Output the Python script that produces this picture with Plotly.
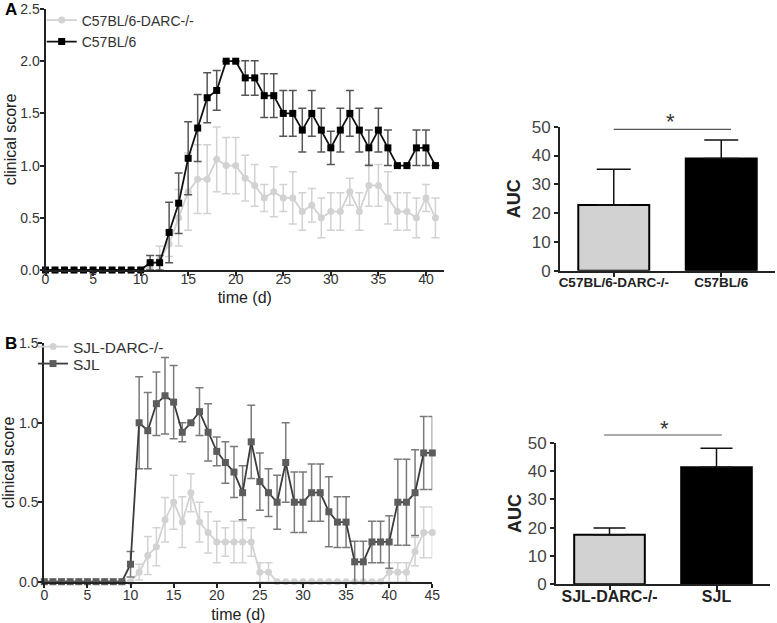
import plotly.graph_objects as go

W, H = 777, 623

# ---------------- Data: panel A ----------------
days_A = [0, 1, 2, 3, 4, 5, 6, 7, 8, 9, 10, 11, 12, 13, 14, 15, 16, 17, 18, 19, 20,
          21, 22, 23, 24, 25, 26, 27, 28, 29, 30, 31, 32, 33, 34, 35, 36, 37, 38, 39, 40, 41]
darc_A = [0, 0, 0, 0, 0, 0, 0, 0, 0, 0, 0, 0.03, 0.1, 0.25, 0.5, 0.75, 0.87, 0.87, 1.06, 1.0, 1.0,
          0.88, 0.81, 0.69, 0.75, 0.69, 0.69, 0.56, 0.62, 0.5, 0.56, 0.56, 0.75, 0.56, 0.81, 0.81,
          0.69, 0.56, 0.56, 0.5, 0.69, 0.5]
darc_A_err = [0, 0, 0, 0, 0, 0, 0, 0, 0, 0, 0, 0.03, 0.13, 0.12, 0.27, 0.37, 0.33, 0.33, 0.31, 0.27, 0.27,
              0.22, 0.2, 0.13, 0.24, 0.13, 0.25, 0.18, 0.16, 0.19, 0.18, 0.18, 0.13, 0.18, 0.2, 0.2,
              0.25, 0.18, 0.18, 0.19, 0.13, 0.19]
wt_A = [0, 0, 0, 0, 0, 0, 0, 0, 0, 0, 0, 0.07, 0.07, 0.36, 0.64, 1.07, 1.36, 1.65, 1.72, 2.0, 2.0,
        1.84, 1.84, 1.67, 1.67, 1.5, 1.5, 1.34, 1.5, 1.34, 1.17, 1.34, 1.5, 1.34, 1.17, 1.34,
        1.17, 1.0, 1.0, 1.17, 1.17, 1.0]
wt_A_err = [0, 0, 0, 0, 0, 0, 0, 0, 0, 0, 0, 0.07, 0.07, 0.29, 0.29, 0.35, 0.32, 0.24, 0.19, 0, 0,
            0.165, 0.165, 0.21, 0.21, 0.22, 0.22, 0.21, 0.22, 0.21, 0.16, 0.21, 0.22, 0.21, 0.17, 0.21,
            0.17, 0, 0, 0.17, 0.17, 0]

groups_A = ["C57BL/6-DARC-/-", "C57BL/6"]
auc_A = [22.8, 39.0]
auc_A_err = [12.4, 6.4]

# ---------------- Data: panel B ----------------
days_B = [0, 1, 2, 3, 4, 5, 6, 7, 8, 9, 10, 11, 12, 13, 14, 15, 16, 17, 18, 19, 20, 21, 22,
          23, 24, 25, 26, 27, 28, 29, 30, 31, 32, 33, 34, 35, 36, 37, 38, 39, 40, 41, 42, 43, 44, 45]
darc_B = [0, 0, 0, 0, 0, 0, 0, 0, 0, 0, 0, 0.06, 0.165, 0.22, 0.39, 0.5, 0.375, 0.56, 0.375, 0.31,
          0.25, 0.25, 0.25, 0.25, 0.25, 0.06, 0.06, 0, 0, 0, 0, 0, 0, 0, 0, 0, 0, 0, 0, 0,
          0.06, 0.06, 0.06, 0.19, 0.31, 0.31]
darc_B_err = [0, 0, 0, 0, 0, 0, 0, 0, 0, 0, 0, 0.05, 0.12, 0.12, 0.14, 0.17, 0.16, 0.12, 0.125, 0.13,
              0.13, 0.09, 0.13, 0.13, 0.09, 0.06, 0.06, 0, 0, 0, 0, 0, 0, 0, 0, 0, 0, 0, 0, 0,
              0.06, 0.06, 0.06, 0.09, 0.16, 0.16]
sjl_B = [0, 0, 0, 0, 0, 0, 0, 0, 0, 0, 0.11, 1.0, 0.95, 1.12, 1.17, 1.13, 0.94, 1.0, 1.07, 0.94,
         0.82, 0.75, 0.69, 0.56, 0.88, 0.63, 0.56, 0.5, 0.75, 0.5, 0.5, 0.56, 0.56, 0.44, 0.375,
         0.375, 0.125, 0.125, 0.25, 0.25, 0.25, 0.5, 0.5, 0.56, 0.81, 0.81]
sjl_B_err = [0, 0, 0, 0, 0, 0, 0, 0, 0, 0, 0.08, 0.29, 0.24, 0.2, 0.24, 0.23, 0.06, 0, 0.15, 0.18,
             0.09, 0.13, 0.16, 0.17, 0.23, 0.18, 0.15, 0.17, 0.25, 0.19, 0.19, 0.18, 0.18, 0.22, 0.16,
             0.16, 0.13, 0.13, 0.13, 0.13, 0.165, 0.27, 0.27, 0.27, 0.23, 0.23]

groups_B = ["SJL-DARC-/-", "SJL"]
auc_B = [17.5, 41.3]
auc_B_err = [2.4, 6.7]

# ---------------- helpers ----------------
FONT = "Arial, Liberation Sans, sans-serif"
AX = "#222222"


def px_x(p):
    return p / W


def px_y(p):
    return 1 - p / H


LIGHT = "#d2d2d2"

fig = go.Figure()

# Panel A line traces
fig.add_trace(go.Scatter(
    x=days_A, y=darc_A, name=groups_A[0], mode="lines+markers",
    line=dict(color=LIGHT, width=1.8), marker=dict(symbol="circle", size=7, color=LIGHT),
    error_y=dict(type="data", array=darc_A_err, color=LIGHT, thickness=1.5, width=4),
    cliponaxis=False, xaxis="x", yaxis="y", legend="legend"))
fig.add_trace(go.Scatter(
    x=days_A, y=wt_A, name=groups_A[1], mode="lines+markers",
    line=dict(color="#111111", width=1.8), marker=dict(symbol="square", size=7, color="#000000"),
    error_y=dict(type="data", array=wt_A_err, color="#555555", thickness=1.5, width=4),
    cliponaxis=False, xaxis="x", yaxis="y", legend="legend2"))

# Panel A bars
fig.add_trace(go.Bar(
    x=groups_A, y=auc_A, width=0.66,
    marker=dict(color=[LIGHT, "#000000"], line=dict(color="#000000", width=2)),
    error_y=dict(type="data", array=auc_A_err, arrayminus=[0, 0], symmetric=False,
                 color="#111111", thickness=1.5, width=17),
    showlegend=False, xaxis="x2", yaxis="y2"))

# Panel B line traces
fig.add_trace(go.Scatter(
    x=days_B, y=darc_B, name=groups_B[0], mode="lines+markers",
    line=dict(color=LIGHT, width=1.8), marker=dict(symbol="circle", size=7, color=LIGHT),
    error_y=dict(type="data", array=darc_B_err, color=LIGHT, thickness=1.5, width=4),
    cliponaxis=False, xaxis="x3", yaxis="y3", legend="legend3"))
fig.add_trace(go.Scatter(
    x=days_B, y=sjl_B, name=groups_B[1], mode="lines+markers",
    line=dict(color="#3c3c3c", width=1.8), marker=dict(symbol="square", size=7, color="#5c5c5c"),
    error_y=dict(type="data", array=sjl_B_err, color="#7a7a7a", thickness=1.5, width=4),
    cliponaxis=False, xaxis="x3", yaxis="y3", legend="legend4"))

# Panel B bars
fig.add_trace(go.Bar(
    x=groups_B, y=auc_B, width=0.66,
    marker=dict(color=[LIGHT, "#000000"], line=dict(color="#000000", width=2)),
    error_y=dict(type="data", array=auc_B_err, arrayminus=[0, 0], symmetric=False,
                 color="#111111", thickness=1.5, width=16),
    showlegend=False, xaxis="x4", yaxis="y4"))

common = dict(showline=True, linecolor=AX, linewidth=2, ticks="outside", ticklen=4,
              tickwidth=1.5, tickcolor=AX, showgrid=False, zeroline=False, automargin=False,
              tickfont=dict(family=FONT, size=14, color="#333333"))

title_font = dict(family=FONT, size=16, color="#222222")
bar_ytick = dict(family=FONT, size=17, color="#444444")


def leg(x, y, size):
    return dict(x=px_x(x), y=px_y(y), xanchor="left", yanchor="top", bgcolor="rgba(0,0,0,0)",
                font=dict(family=FONT, size=size, color="#333333"), itemwidth=30)


fig.update_layout(
    width=W, height=H, margin=dict(l=0, r=0, t=0, b=0),
    paper_bgcolor="white", plot_bgcolor="white",
    font=dict(family=FONT, color="#222222"),
    xaxis=dict(domain=[px_x(45.5), px_x(444)], range=[0, 41.9], tickvals=[0, 5, 10, 15, 20, 25, 30, 35, 40],
               anchor="y", ticklabelstandoff=-9,
               title=dict(text="time (d)", font=title_font, standoff=6), **common),
    yaxis=dict(domain=[px_y(270), px_y(9)], range=[0, 2.5], tickvals=[0, 0.5, 1.0, 1.5, 2.0, 2.5],
               tickformat=".1f", anchor="x", ticklabelstandoff=-3,
               title=dict(text="clinical score", font=title_font, standoff=0), **common),
    xaxis2=dict(domain=[px_x(560), px_x(775)], range=[-0.5, 1.5], anchor="y2", ticklabelstandoff=-6,
                **{**common, "tickfont": dict(family=FONT, size=13.5, color="#222222", weight="bold")}),
    yaxis2=dict(domain=[px_y(270.7), px_y(126.7)], range=[0, 50], tickvals=[0, 10, 20, 30, 40, 50],
                anchor="x2", title=dict(text="AUC", font=dict(family=FONT, size=18, color="#222222", weight="bold"),
                                        standoff=6),
                **{**common, "tickfont": bar_ytick}),
    xaxis3=dict(domain=[px_x(44.3), px_x(432.3)], range=[0, 45], tickvals=[0, 5, 10, 15, 20, 25, 30, 35, 40, 45],
                anchor="y3", ticklabelstandoff=-5,
                title=dict(text="time (d)", font=title_font, standoff=8), **common),
    yaxis3=dict(domain=[px_y(581.7), px_y(343.3)], range=[0, 1.5], tickvals=[0, 0.5, 1.0, 1.5],
                tickformat=".1f", anchor="x3", ticklabelstandoff=-3,
                title=dict(text="clinical score", font=title_font, standoff=0), **common),
    xaxis4=dict(domain=[px_x(556), px_x(770)], range=[-0.5, 1.5], anchor="y4", ticklabelstandoff=-8,
                **{**common, "tickfont": dict(family=FONT, size=16, color="#222222", weight="bold")}),
    yaxis4=dict(domain=[px_y(584.3), px_y(442.7)], range=[0, 50], tickvals=[0, 10, 20, 30, 40, 50],
                anchor="x4", title=dict(text="AUC", font=dict(family=FONT, size=18, color="#222222", weight="bold"),
                                        standoff=1),
                **{**common, "tickfont": bar_ytick}),
    legend=leg(41.7, 4.5, 14),
    legend2=leg(41.7, 26, 14),
    legend3=leg(33, 330, 15.5),
    legend4=leg(33, 347, 15.5),
    showlegend=True,
)

# Significance brackets
fig.add_shape(type="line", xref="x2", yref="paper", x0=0.0, x1=1.09, y0=px_y(129.3), y1=px_y(129.3),
              line=dict(color="#555555", width=1.2))
fig.add_annotation(xref="x2", yref="paper", x=0.53, y=px_y(122), text="*", showarrow=False,
                   xanchor="center", yanchor="middle",
                   font=dict(family=FONT, size=22, color="#333333"))
fig.add_shape(type="line", xref="x4", yref="paper", x0=-0.05, x1=1.05, y0=px_y(435), y1=px_y(435),
              line=dict(color="#555555", width=1.2))
fig.add_annotation(xref="x4", yref="paper", x=0.51, y=px_y(428), text="*", showarrow=False,
                   xanchor="center", yanchor="middle",
                   font=dict(family=FONT, size=22, color="#333333"))

# Panel letters
fig.add_annotation(xref="paper", yref="paper", x=px_x(3), y=px_y(10), xanchor="left", yanchor="middle",
                   text="<b>A</b>", showarrow=False, font=dict(family=FONT, size=17, color="#000000"))
fig.add_annotation(xref="paper", yref="paper", x=px_x(3), y=px_y(343), xanchor="left", yanchor="middle",
                   text="<b>B</b>", showarrow=False, font=dict(family=FONT, size=17, color="#000000"))

fig.write_html("out.html", config={"displayModeBar": False},
               post_script="document.body.style.margin='0px';")
